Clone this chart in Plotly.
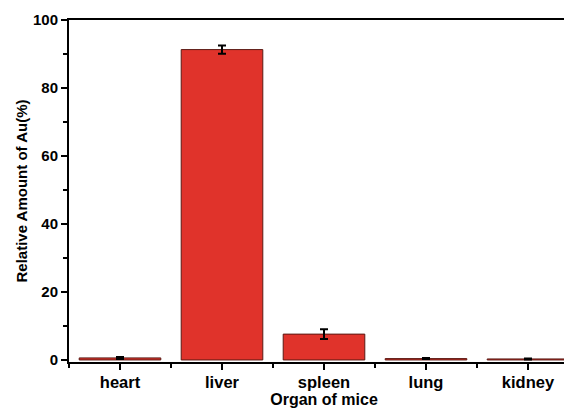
import plotly.graph_objects as go

organs = ["heart", "liver", "spleen", "lung", "kidney"]
values = [0.6, 91.3, 7.6, 0.4, 0.3]
errors = [0.3, 1.2, 1.4, 0.15, 0.15]
y_ticks = [0, 20, 40, 60, 80, 100]

xpos = list(range(len(organs)))

fig = go.Figure()
fig.add_trace(go.Bar(
    x=xpos, y=values, width=0.8,
    marker=dict(color="#E0332B", line=dict(color="#5a1a14", width=1)),
    error_y=dict(type="data", array=errors, visible=True, color="black", thickness=2, width=4),
))

font = "Liberation Sans, Arial, sans-serif"
fig.update_layout(
    width=572, height=412,
    margin=dict(l=61, r=1, t=12, b=58),
    plot_bgcolor="white", paper_bgcolor="white",
    showlegend=False,
    font=dict(family=font, color="black"),
    xaxis=dict(
        range=[-0.5, 4.5], tickvals=xpos, ticktext=[f"<b>{o}</b>" for o in organs],
        showline=True, linecolor="black", linewidth=2, mirror=True,
        ticks="outside", ticklen=6, tickwidth=2, tickcolor="black",
        minor=dict(tick0=0.5, dtick=1, ticks="outside", ticklen=4, tickwidth=2, tickcolor="black"),
        showgrid=False, zeroline=False,
        tickfont=dict(size=16.5, family=font),
        ticklabelstandoff=-2,
        title=dict(text="<b>Organ of mice</b>", font=dict(size=16, family=font), standoff=0),
    ),
    yaxis=dict(
        range=[-0.6, 100], tickvals=y_ticks, ticktext=[f"<b>{v}</b>" for v in y_ticks],
        showline=True, linecolor="black", linewidth=2,
        ticks="outside", ticklen=6, tickwidth=2, tickcolor="black",
        minor=dict(tick0=0, dtick=10, ticks="outside", ticklen=4, tickwidth=2, tickcolor="black"),
        showgrid=False, zeroline=False,
        tickfont=dict(size=15, family=font),
        title=dict(text="<b>Relative Amount of Au(%)</b>", font=dict(size=15, family=font), standoff=2),
    ),
)
fig.write_html("out.html")
